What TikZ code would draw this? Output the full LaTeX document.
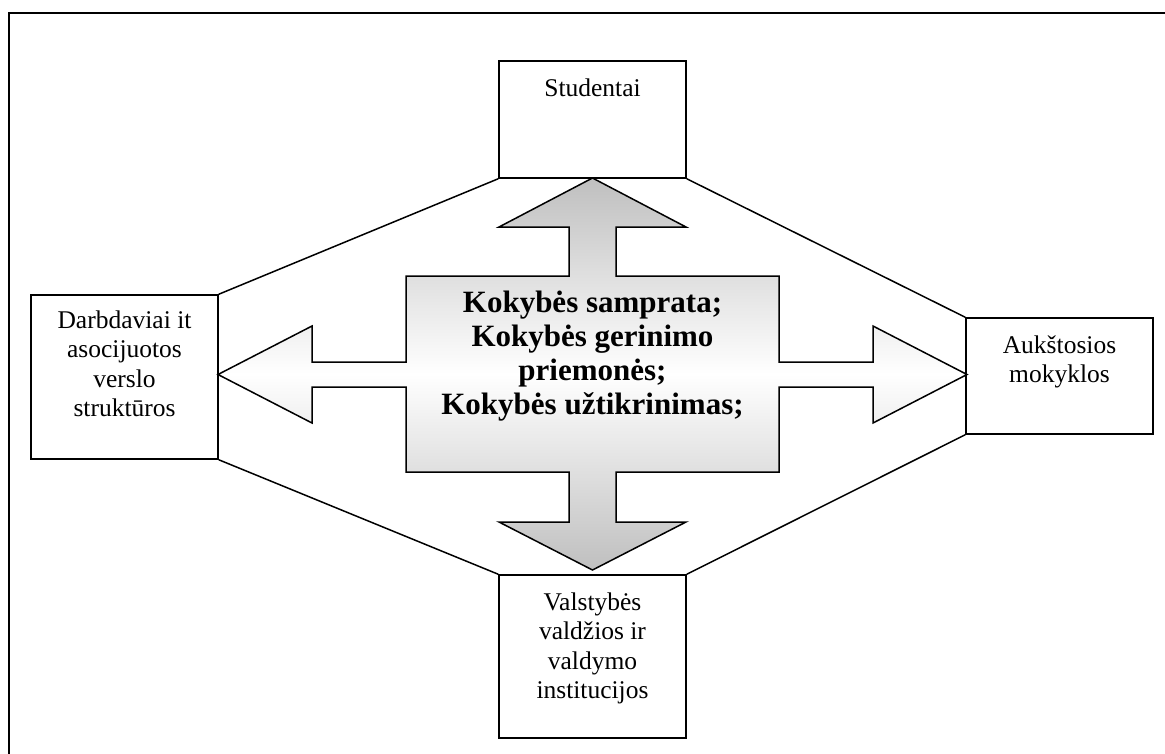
\documentclass[tikz,border=0pt]{standalone}
\usepackage{fontspec}
\setmainfont{Liberation Serif}
\begin{document}
\begin{tikzpicture}[x=1pt,y=-1pt,
  box/.style={draw, line width=1.5pt, fill=white, inner sep=0pt, minimum width=187pt},
  txt/.style={anchor=north, inner sep=0pt, align=center, font=\fontsize{25.5pt}{29.5pt}\selectfont},
  btxt/.style={anchor=north, inner sep=0pt, align=center, font=\fontsize{31pt}{34pt}\selectfont\bfseries},
  conn/.style={line width=1.5pt},
  bigarrow/.style={draw, line width=1.5pt, line join=miter, top color=gray!50, bottom color=gray!50, middle color=white},
  frame/.style={line width=2pt}]
\useasboundingbox (0,0) rectangle (1165,753);
% outer frame (only top and left edges visible)
\draw[frame] (8.7,765) -- (8.7,12.8) -- (1180,12.8);

% boxes
\node[box, minimum height=117pt] (stud) at (592.5,119.5) {};
\node[box, minimum height=164pt] (emp) at (124.5,377) {};
\node[box, minimum height=116pt] (uni) at (1059.5,376) {};
\node[box, minimum height=163pt] (gov) at (592.5,656.5) {};

% connectors
\draw[conn] (stud.south west) -- (emp.north east);
\draw[conn] (stud.south east) -- (uni.north west);
\draw[conn] (emp.south east) -- (gov.north west);
\draw[conn] (uni.south west) -- (gov.north east);

% four-way arrow
\path[bigarrow] (592.5,178) -- (686,227) -- (616,227) -- (616,276) -- (779,276) -- (779,362)
  -- (873,362) -- (873,326) -- (967,374.5) -- (873,423) -- (873,387) -- (779,387)
  -- (779,472) -- (616,472) -- (616,522) -- (686,522) -- (592.5,570) -- (499,522)
  -- (569,522) -- (569,472) -- (406,472) -- (406,387) -- (312,387) -- (312,423)
  -- (218,374.5) -- (312,326) -- (312,362) -- (406,362) -- (406,276) -- (569,276)
  -- (569,227) -- (499,227) -- cycle;

% texts
\node[txt] (studt) at (592.5,76) {\rule{0pt}{20pt}Studentai};
\node[txt] (empt) at (124.5,308) {\rule{0pt}{20pt}Darbdaviai it\\asocijuotos\\verslo\\struktūros};
\node[txt] (unit) at (1059.5,333) {\rule{0pt}{20pt}Aukštosios\\mokyklos};
\node[txt] (govt) at (592.5,590) {\rule{0pt}{20pt}Valstybės\\valdžios ir\\valdymo\\institucijos};
\node[btxt] (center) at (592.5,287) {\rule{0pt}{25pt}Kokybės samprata;\\Kokybės gerinimo\\priemonės;\\Kokybės užtikrinimas;};
\end{tikzpicture}
\end{document}
